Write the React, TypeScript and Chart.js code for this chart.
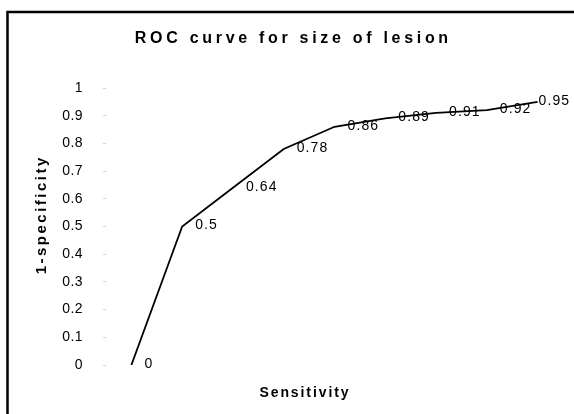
import React, { useEffect, useRef } from "react";
import { Chart, registerables } from "chart.js";

Chart.register(...registerables);

const categories = ["1", "2", "3", "4", "5", "6", "7", "8", "9"];
const values = [0, 0.5, 0.64, 0.78, 0.86, 0.89, 0.91, 0.92, 0.95];
const valueLabels = ["0", "0.5", "0.64", "0.78", "0.86", "0.89", "0.91", "0.92", "0.95"];
const yMin = 0;
const yMax = 1;
const yStep = 0.1;
const chartTitle = "ROC curve for size of lesion";
const xTitle = "Sensitivity";
const yTitle = "1-specificity";

const FONT = '"Liberation Sans", Arial, Helvetica, sans-serif';

function spacedText(
  ctx: CanvasRenderingContext2D,
  text: string,
  x: number,
  y: number,
  spacing: number,
  align: "left" | "center"
) {
  (ctx as any).letterSpacing = spacing + "px";
  const w = ctx.measureText(text).width - spacing;
  const sx = align === "center" ? x - w / 2 : x;
  ctx.textAlign = "left";
  ctx.fillText(text, sx, y);
}

const decorPlugin = {
  id: "decor",
  beforeDraw(chart: any) {
    const ctx = chart.ctx as CanvasRenderingContext2D;
    ctx.save();
    ctx.fillStyle = "#ffffff";
    ctx.fillRect(0, 0, chart.width, chart.height);
    ctx.restore();
    (ctx as any).letterSpacing = "0.4px";
  },
  afterDatasetsDraw(chart: any) {
    const ctx = chart.ctx as CanvasRenderingContext2D;
    const meta = chart.getDatasetMeta(0);
    ctx.save();
    ctx.fillStyle = "#000";
    ctx.font = `14px ${FONT}`;
    ctx.textBaseline = "middle";
    const last = meta.data.length - 1;
    meta.data.forEach((pt: any, i: number) => {
      const off = i === last ? 1 : 13;
      spacedText(ctx, valueLabels[i], pt.x + off, pt.y - 1, 1.1, "left");
    });
    ctx.restore();
  },
  afterDraw(chart: any) {
    const ctx = chart.ctx as CanvasRenderingContext2D;
    ctx.save();
    ctx.fillStyle = "#000";
    ctx.textBaseline = "middle";
    // title
    ctx.font = `bold 16px ${FONT}`;
    spacedText(ctx, chartTitle, 291.5, 39, 3.7, "center");
    // x title
    ctx.font = `bold 14px ${FONT}`;
    spacedText(ctx, xTitle, 304, 393, 1.9, "center");
    // y title
    ctx.save();
    ctx.translate(42, 216);
    ctx.rotate(-Math.PI / 2);
    ctx.font = `bold 15px ${FONT}`;
    spacedText(ctx, yTitle, 0, 0, 2.5, "center");
    ctx.restore();
    // frame
    (ctx as any).letterSpacing = "0px";
    ctx.strokeStyle = "#000";
    ctx.lineWidth = 2.5;
    ctx.beginPath();
    ctx.moveTo(7.5, 700);
    ctx.lineTo(7.5, 12);
    ctx.lineTo(700, 12);
    ctx.stroke();
    ctx.restore();
  },
};

export default function App() {
  const ref = useRef<HTMLCanvasElement | null>(null);

  useEffect(() => {
    if (!ref.current) return;
    const chart = new Chart(ref.current, {
      type: "line",
      data: {
        labels: categories,
        datasets: [
          {
            data: values,
            borderColor: "#000",
            borderWidth: 1.8,
            pointRadius: 0,
            fill: false,
            tension: 0,
          },
        ],
      },
      options: {
        responsive: false,
        animation: false,
        devicePixelRatio: 1,
        layout: { padding: { left: 0, top: 88, right: 11, bottom: 49 } },
        plugins: {
          legend: { display: false },
          title: { display: false },
          tooltip: { enabled: false },
        },
        scales: {
          x: {
            type: "category",
            offset: true,
            display: false,
          },
          y: {
            min: yMin,
            max: yMax,
            ticks: {
              stepSize: yStep,
              color: "#000",
              padding: 20,
              font: { family: FONT, size: 14 },
              callback: (v: any) => String(Number(Number(v).toFixed(1))),
            },
            grid: {
              drawOnChartArea: false,
              drawTicks: true,
              tickLength: 3,
              color: "#d4d4d4",
            },
            border: { display: false },
            afterFit: (s: any) => {
              s.width = 106;
            },
          },
        },
      },
      plugins: [decorPlugin],
    });
    return () => chart.destroy();
  }, []);

  return (
    <div style={{ position: "fixed", left: 0, top: 0, width: 574, height: 414, background: "#fff" }}>
      <canvas ref={ref} width={574} height={414} style={{ display: "block" }} />
    </div>
  );
}
